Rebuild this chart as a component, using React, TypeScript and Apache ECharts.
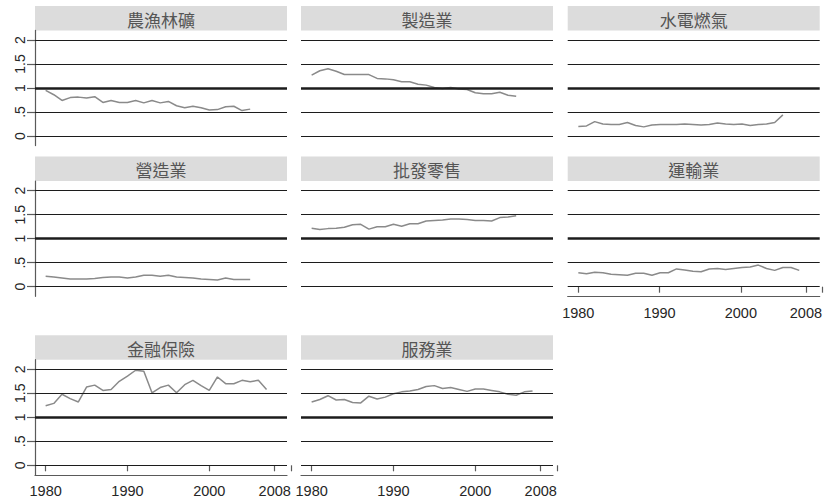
import React, { useEffect, useRef } from "react";
import * as echarts from "echarts";

// Years on the horizontal axis
const years = [
  1980, 1981, 1982, 1983, 1984, 1985, 1986, 1987, 1988, 1989,
  1990, 1991, 1992, 1993, 1994, 1995, 1996, 1997, 1998, 1999,
  2000, 2001, 2002, 2003, 2004, 2005, 2006, 2007,
];

const panelTitles = ["農漁林礦", "製造業", "水電燃氣", "營造業", "批發零售", "運輸業", "金融保險", "服務業"];

// Ratio series per industry
const agriculture = [0.95, 0.86, 0.74, 0.80, 0.81, 0.79, 0.82, 0.70, 0.74, 0.70, 0.70, 0.74, 0.69, 0.74, 0.69, 0.72, 0.63, 0.59, 0.62, 0.59, 0.54, 0.55, 0.61, 0.62, 0.53, 0.56];
const manufacturing = [1.27, 1.36, 1.40, 1.35, 1.28, 1.28, 1.28, 1.28, 1.20, 1.19, 1.17, 1.13, 1.13, 1.08, 1.06, 1.01, 0.99, 1.01, 0.98, 0.97, 0.90, 0.88, 0.88, 0.91, 0.85, 0.83];
const utilities = [0.20, 0.21, 0.30, 0.25, 0.24, 0.24, 0.28, 0.22, 0.19, 0.23, 0.24, 0.24, 0.24, 0.25, 0.24, 0.23, 0.24, 0.27, 0.25, 0.24, 0.25, 0.22, 0.24, 0.25, 0.28, 0.44];
const construction = [0.22, 0.20, 0.18, 0.16, 0.16, 0.16, 0.17, 0.19, 0.20, 0.20, 0.18, 0.20, 0.24, 0.24, 0.22, 0.24, 0.20, 0.19, 0.18, 0.16, 0.15, 0.14, 0.18, 0.15, 0.15, 0.15];
const wholesaleRetail = [1.22, 1.19, 1.21, 1.22, 1.24, 1.29, 1.30, 1.20, 1.25, 1.25, 1.30, 1.26, 1.31, 1.31, 1.37, 1.38, 1.39, 1.41, 1.41, 1.40, 1.38, 1.38, 1.37, 1.44, 1.45, 1.48];
const transport = [0.29, 0.27, 0.30, 0.29, 0.26, 0.25, 0.24, 0.28, 0.28, 0.24, 0.29, 0.29, 0.37, 0.35, 0.32, 0.31, 0.37, 0.38, 0.36, 0.38, 0.40, 0.41, 0.45, 0.38, 0.34, 0.40, 0.40, 0.34];
const finance = [1.24, 1.29, 1.48, 1.39, 1.32, 1.63, 1.67, 1.56, 1.58, 1.75, 1.86, 1.98, 1.96, 1.51, 1.62, 1.67, 1.51, 1.68, 1.77, 1.66, 1.56, 1.84, 1.70, 1.70, 1.77, 1.74, 1.77, 1.58];
const services = [1.32, 1.37, 1.45, 1.36, 1.37, 1.31, 1.30, 1.44, 1.38, 1.42, 1.49, 1.53, 1.55, 1.58, 1.64, 1.66, 1.60, 1.62, 1.58, 1.54, 1.59, 1.59, 1.56, 1.53, 1.48, 1.46, 1.53, 1.55];

const panelSeries = [agriculture, manufacturing, utilities, construction, wholesaleRetail, transport, finance, services];

// Axis ticks and labels
const yTickValues = [0, 0.5, 1, 1.5, 2];
const yTickLabels = ["0", ".5", "1", "1.5", "2"];
const xTickValues = [1980, 1990, 2000, 2008, 2010];
const xLabelValues = [1980, 1990, 2000, 2008];

// Layout of the 3x3 panel grid (last cell empty)
const COL_LEFT = [35, 301, 567.7];
const ROW_TOP = [30.4, 181.1, 359.7];
const PLOT_W = 252;
const PLOT_H = 115.2;
const STRIP_H = 24.5;
const X_MIN = 1978.7;
const X_MAX = 2009.5;
const TICK_X_MAX = 2010;
const Y_MIN = -0.2;
const Y_MAX = 2.2;

const LATIN_FONT = '"Liberation Sans", Arial, sans-serif';
const CJK_FONT = '"Noto Sans CJK TC", "Noto Sans CJK SC", sans-serif';
const AXIS_COLOR = "#5a5a5a";
const GRID_COLOR = "#1c1c1c";
const LINE_COLOR = "#8a8a8a";

export default function App() {
  const ref = useRef<HTMLDivElement>(null);

  useEffect(() => {
    if (!ref.current) return;
    const chart = echarts.init(ref.current, undefined, { renderer: "svg" });

    const grids: any[] = [];
    const xAxes: any[] = [];
    const yAxes: any[] = [];
    const series: any[] = [];
    const graphics: any[] = [];

    panelTitles.forEach((title, i) => {
      const col = i % 3;
      const row = Math.floor(i / 3);
      const left = COL_LEFT[col];
      const top = ROW_TOP[row];
      const hasYAxis = col === 0;
      const hasXAxis = i >= 5;
      const values = panelSeries[i];

      // plot area
      grids.push({ left, top, width: PLOT_W, height: PLOT_H });
      const gi = grids.length - 1;
      xAxes.push({
        gridIndex: gi,
        type: "value",
        min: X_MIN,
        max: X_MAX,
        axisLine: { show: hasXAxis, onZero: false, lineStyle: { color: AXIS_COLOR, width: 1.2 } },
        axisTick: { show: false },
        axisLabel: { show: false },
        splitLine: { show: false },
      });
      yAxes.push({
        gridIndex: gi,
        type: "value",
        min: Y_MIN,
        max: Y_MAX,
        axisLine: { show: hasYAxis, onZero: false, lineStyle: { color: AXIS_COLOR, width: 1.2 } },
        axisTick: {
          show: hasYAxis,
          length: 8,
          customValues: yTickValues,
          lineStyle: { color: AXIS_COLOR, width: 1.2 },
        },
        axisLabel: {
          show: hasYAxis,
          customValues: yTickValues,
          rotate: 90,
          margin: 8,
          fontSize: 14,
          fontFamily: LATIN_FONT,
          color: "#262626",
          formatter: (v: number) => {
            const k = yTickValues.findIndex((t) => Math.abs(t - v) < 1e-6);
            return k >= 0 ? yTickLabels[k] : "";
          },
        },
        splitLine: { show: false },
      });

      // horizontal reference lines
      series.push({
        type: "line",
        xAxisIndex: gi,
        yAxisIndex: gi,
        data: [],
        z: 1,
        silent: true,
        markLine: {
          silent: true,
          symbol: ["none", "none"],
          label: { show: false },
          animation: false,
          data: yTickValues.map((v) => ({
            yAxis: v,
            lineStyle: { color: GRID_COLOR, width: v === 1 ? 2.6 : 1.1, type: "solid" },
          })),
        },
      });

      // industry series
      series.push({
        type: "line",
        xAxisIndex: gi,
        yAxisIndex: gi,
        z: 3,
        symbol: "none",
        silent: true,
        lineStyle: { color: LINE_COLOR, width: 1.5 },
        data: values.map((v, k) => [years[k], v]),
      });

      // year ticks and labels (scale extends to 2010)
      if (hasXAxis) {
        grids.push({
          left,
          top,
          width: (PLOT_W * (TICK_X_MAX - X_MIN)) / (X_MAX - X_MIN),
          height: PLOT_H,
        });
        const tg = grids.length - 1;
        xAxes.push({
          gridIndex: tg,
          type: "value",
          min: X_MIN,
          max: TICK_X_MAX,
          axisLine: { show: false },
          axisTick: {
            show: true,
            length: 6,
            customValues: xTickValues,
            lineStyle: { color: AXIS_COLOR, width: 1.2 },
          },
          axisLabel: {
            customValues: xLabelValues,
            margin: 9,
            fontSize: 14.5,
            fontFamily: LATIN_FONT,
            color: "#262626",
            formatter: (v: number) => String(Math.round(v)),
          },
          splitLine: { show: false },
        });
        yAxes.push({ gridIndex: tg, type: "value", show: false, min: Y_MIN, max: Y_MAX });
      }

      // title strip
      graphics.push({
        type: "rect",
        shape: { x: left, y: top - STRIP_H, width: PLOT_W, height: STRIP_H },
        style: { fill: "#dcdcdc" },
        silent: true,
      });
      graphics.push({
        type: "text",
        x: left + PLOT_W / 2,
        y: top - STRIP_H / 2 + 1,
        silent: true,
        style: {
          text: title,
          align: "center",
          verticalAlign: "middle",
          fontSize: 17,
          fontFamily: CJK_FONT,
          fill: "#555555",
        },
      });
    });

    chart.setOption({
      animation: false,
      backgroundColor: "#ffffff",
      grid: grids,
      xAxis: xAxes,
      yAxis: yAxes,
      series,
      graphic: graphics,
    });

    return () => chart.dispose();
  }, []);

  return (
    <div
      ref={ref}
      style={{ position: "absolute", left: 0, top: 0, width: 825, height: 502 }}
    />
  );
}
